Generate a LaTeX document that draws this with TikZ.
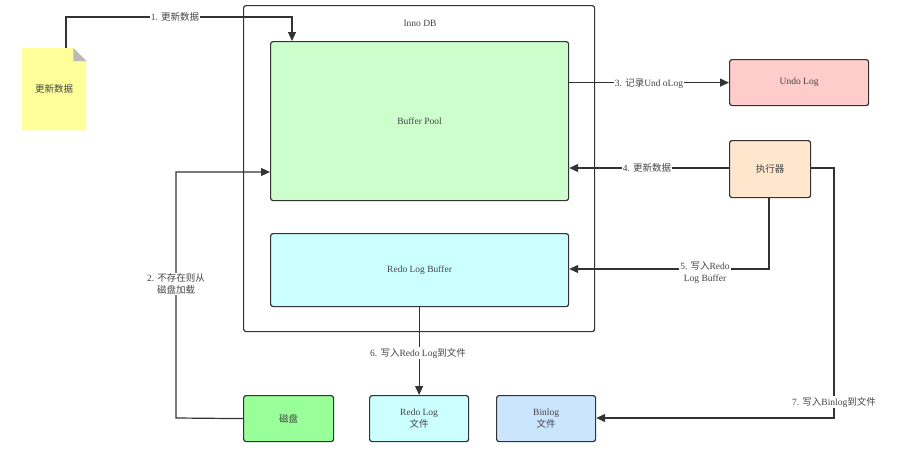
\documentclass[tikz,border=0pt]{standalone}
\usepackage{fontspec}
\setmainfont{Liberation Serif}
\newfontfamily\cjk{Noto Sans CJK SC}
\usetikzlibrary{arrows.meta,positioning,calc}
\definecolor{ln}{HTML}{333333}
\definecolor{tx}{HTML}{444444}
\definecolor{bpool}{HTML}{CCFFCC}
\definecolor{rbuf}{HTML}{CCFFFF}
\definecolor{undo}{HTML}{FFCCCC}
\definecolor{exec}{HTML}{FFE6CC}
\definecolor{disk}{HTML}{99FF99}
\definecolor{binl}{HTML}{CCE5FF}
\definecolor{docy}{HTML}{FFFF99}
\tikzset{
  box/.style={draw=ln, line width=1.2pt, rounded corners=2.5pt, text=tx, font=\fontsize{9.5}{11.5}\selectfont, align=center, inner sep=0pt},
  conn/.style={draw=ln, line width=1.2pt, -{Triangle[length=9pt,width=8pt]}},
  lbl/.style={fill=white, text=tx, font=\fontsize{9.5}{12}\selectfont, align=center, inner sep=1pt}
}
\begin{document}
\begin{tikzpicture}[x=1pt,y=-1pt]
\useasboundingbox (0,0) rectangle (912,463);
% InnoDB container
\node[box, minimum width=351pt, minimum height=326pt, anchor=north west] (innodb) at (243,5) {};
\node[text=tx, font=\fontsize{9.5}{11}\selectfont] (innolbl) at (420,23) {Inno DB};
% inner boxes
\node[box, fill=bpool, minimum width=298pt, minimum height=159pt, anchor=north west] (bp) at (270,41) {Buffer Pool};
\node[box, fill=rbuf, minimum width=298pt, minimum height=73pt, anchor=north west] (rlb) at (270,233) {Redo Log Buffer};
% right side
\node[box, fill=undo, minimum width=139pt, minimum height=46pt, anchor=north west] (undo) at (729,59) {Undo Log};
\node[box, fill=exec, minimum width=81pt, minimum height=57pt, anchor=north west] (exe) at (729,140) {\cjk 执行器};
% bottom
\node[box, fill=disk, minimum width=90pt, minimum height=46pt, anchor=north west] (disk) at (243,395) {\cjk 磁盘};
\node[box, fill=rbuf, minimum width=99pt, minimum height=46pt, anchor=north west] (rlf) at (369,395) {Redo Log\\{\cjk 文件}};
\node[box, fill=binl, minimum width=99pt, minimum height=46pt, anchor=north west] (binf) at (496,395) {Binlog\\{\cjk 文件}};
% document shape
\node[minimum width=64pt, minimum height=82pt, inner sep=0pt, anchor=north west] (doc) at (22,48) {};
\fill[docy] (doc.north west) -- ($(doc.north east)+(-13,0)$) -- ($(doc.north east)+(0,13)$) -- (doc.south east) -- (doc.south west) -- cycle;
\fill[gray!55] ($(doc.north east)+(-13,0)$) -- ($(doc.north east)+(-13,13)$) -- ($(doc.north east)+(0,13)$) -- cycle;
\node[text=tx, font=\cjk\fontsize{9.5}{11}\selectfont] (doclbl) at (doc.center) {更新数据};
% coordinates
\coordinate (c1a) at (66,17);
\coordinate (c1b) at (292,17);
\coordinate (c2a) at (176,418);
\coordinate (c2b) at (176,172);
\coordinate (c5a) at (769,269);
\coordinate (c7a) at (834,168);
\coordinate (c7b) at (834,418);
% 1
\draw[conn] (doc.north -| c1a) -- (c1a) -- (c1b) -- (bp.north -| c1b);
\node[lbl] (l1) at (175,17) {1. {\cjk 更新数据}};
% 2
\draw[conn] (disk.west) -- (c2a) -- (c2b) -- (bp.west |- c2b);
\node[lbl] (l2) at (176,284) {2. {\cjk 不存在则从}\\{\cjk 磁盘加载}};
% 3
\draw[conn] (bp.east |- undo.west) -- (undo.west);
\node[lbl] (l3) at (649,84) {3. {\cjk 记录}Und oLog};
% 4
\draw[conn] (exe.west |- c7a) -- (bp.east |- c7a);
\node[lbl] (l4) at (647,168) {4. {\cjk 更新数据}};
% 5
\draw[conn] (exe.south -| c5a) -- (c5a) -- (rlb.east |- c5a);
\node[lbl] (l5) at (705,273) {5. {\cjk 写入}Redo\\Log Buffer};
% 6
\draw[conn] (rlb.south -| rlf.north) -- (rlf.north);
\node[lbl] (l6) at (418,353) {6. {\cjk 写入}Redo Log{\cjk 到文件}};
% 7
\draw[conn] (exe.east |- c7a) -- (c7a) -- (c7b) -- (binf.east |- c7b);
\node[lbl] (l7) at (834,402) {7. {\cjk 写入}Binlog{\cjk 到文件}};
\end{tikzpicture}
\end{document}
